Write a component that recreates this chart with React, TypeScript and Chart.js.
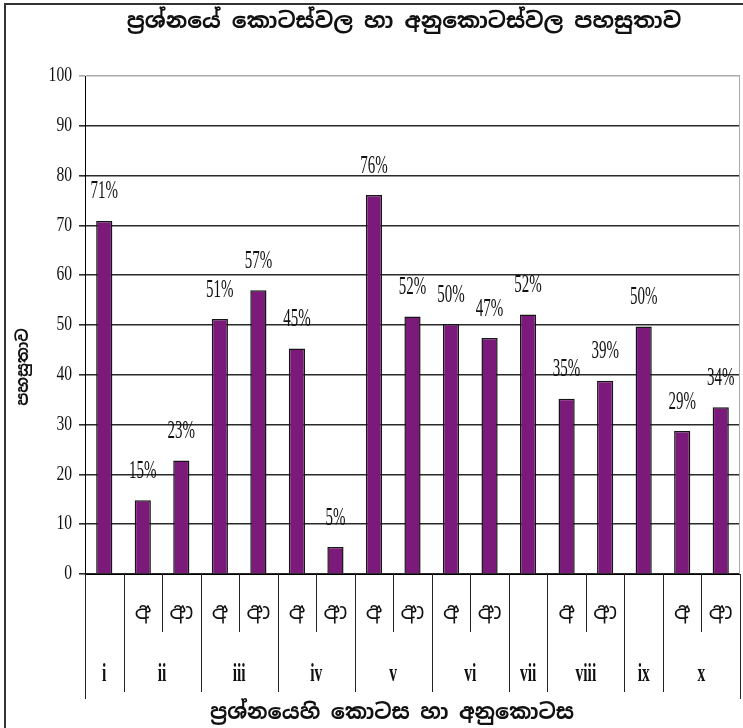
import React, { useEffect, useRef } from 'react';
import { Chart, registerables } from 'chart.js';

Chart.register(...registerables);

// ---- data ----
const titleText = 'ප්‍රශ්නයේ කොටස්වල හා අනුකොටස්වල පහසුතාව';
const yTitleText = 'පහසුතාව';
const xTitleText = 'ප්‍රශ්නයෙහි කොටස හා අනුකොටස';

const groupLabels = ['i', 'ii', 'ii', 'iii', 'iii', 'iv', 'iv', 'v', 'v', 'vi', 'vi', 'vii', 'viii', 'viii', 'ix', 'x', 'x'];
const subLabels = ['', 'අ', 'ආ', 'අ', 'ආ', 'අ', 'ආ', 'අ', 'ආ', 'අ', 'ආ', '', 'අ', 'ආ', '', 'අ', 'ආ'];
const values = [70.9, 14.8, 22.8, 51.2, 57.0, 45.3, 5.4, 76.1, 51.7, 50.2, 47.4, 52.1, 35.2, 38.8, 49.7, 28.7, 33.5];
const valueLabels = ['71%', '15%', '23%', '51%', '57%', '45%', '5%', '76%', '52%', '50%', '47%', '52%', '35%', '39%', '50%', '29%', '34%'];
const yTickValues = [0, 10, 20, 30, 40, 50, 60, 70, 80, 90, 100];

const SINHALA = "'Noto Sans Sinhala', 'Iskoola Pota', 'Noto Sans', 'DejaVu Sans', sans-serif";
const SERIF = "'Liberation Serif', 'DejaVu Serif', serif";

function squeezed(
  ctx: CanvasRenderingContext2D,
  text: string,
  x: number,
  y: number,
  font: string,
  sx: number,
  align: CanvasTextAlign,
  baseline: CanvasTextBaseline = 'middle'
) {
  ctx.save();
  ctx.translate(x, y);
  ctx.scale(sx, 1);
  ctx.font = font;
  ctx.textAlign = align;
  ctx.textBaseline = baseline;
  ctx.fillStyle = '#111';
  ctx.fillText(text, 0, 0);
  ctx.restore();
}

const decorPlugin = {
  id: 'decor',
  afterDraw(chart: any) {
    const ctx: CanvasRenderingContext2D = chart.ctx;
    const xs = chart.scales.x;
    const ys = chart.scales.y;
    const area = chart.chartArea;

    // outer frame (left and top)
    ctx.save();
    ctx.strokeStyle = '#333';
    ctx.lineWidth = 2;
    ctx.beginPath();
    ctx.moveTo(5, 728);
    ctx.lineTo(5, 4);
    ctx.lineTo(743, 4);
    ctx.stroke();
    ctx.restore();

    // right plot border (light)
    ctx.save();
    ctx.strokeStyle = '#aaa';
    ctx.lineWidth = 1;
    ctx.beginPath();
    ctx.moveTo(area.right - 0.5, area.top);
    ctx.lineTo(area.right - 0.5, area.bottom);
    ctx.stroke();
    ctx.restore();

    // titles
    ctx.save();
    ctx.fillStyle = '#111';
    ctx.font = `bold 22px ${SINHALA}`;
    ctx.textAlign = 'center';
    ctx.textBaseline = 'middle';
    ctx.fillText(titleText, 404, 22);
    ctx.font = `bold 21px ${SINHALA}`;
    ctx.fillText(xTitleText, 392, 713);
    ctx.translate(24, 367);
    ctx.rotate(-Math.PI / 2);
    ctx.font = `bold 16px ${SINHALA}`;
    ctx.fillText(yTitleText, 0, 0);
    ctx.restore();

    // y tick labels
    yTickValues.forEach((v) => {
      const y = ys.getPixelForValue(v);
      squeezed(ctx, String(v), 72, y, `20px ${SERIF}`, 0.78, 'right');
    });

    // value labels
    const meta = chart.getDatasetMeta(0);
    meta.data.forEach((bar: any, i: number) => {
      squeezed(ctx, valueLabels[i], bar.x, bar.y - 29, `25px ${SERIF}`, 0.6, 'center');
    });

    // x axis multi-level separators
    const n = groupLabels.length;
    const slot = (area.right - area.left) / n;
    ctx.save();
    ctx.strokeStyle = '#222';
    ctx.lineWidth = 1;
    for (let i = 0; i <= n; i++) {
      const bx = i < n ? xs.getPixelForValue(i) - slot / 2 : xs.getPixelForValue(n - 1) + slot / 2;
      let end = 632;
      if (i === 0 || i === n) end = 699;
      else if (groupLabels[i - 1] !== groupLabels[i]) end = 692;
      const px = Math.round(bx) + 0.5;
      ctx.beginPath();
      ctx.moveTo(px, area.bottom);
      ctx.lineTo(px, end);
      ctx.stroke();
    }
    ctx.restore();

    // sub labels
    subLabels.forEach((s, i) => {
      if (!s) return;
      ctx.save();
      ctx.fillStyle = '#111';
      ctx.font = `23px ${SINHALA}`;
      ctx.textAlign = 'center';
      ctx.textBaseline = 'middle';
      ctx.fillText(s, xs.getPixelForValue(i), 613);
      ctx.restore();
    });

    // group labels
    let start = 0;
    for (let i = 1; i <= n; i++) {
      if (i === n || groupLabels[i] !== groupLabels[start]) {
        const cx = (xs.getPixelForValue(start) + xs.getPixelForValue(i - 1)) / 2;
        squeezed(ctx, groupLabels[start], cx, 681, `bold 25px ${SERIF}`, 0.62, 'center', 'alphabetic');
        start = i;
      }
    }
  },
};

export default function App() {
  const ref = useRef<HTMLCanvasElement | null>(null);

  useEffect(() => {
    if (!ref.current) return;
    const categories = groupLabels.map((g, i) => (subLabels[i] ? `${g} ${subLabels[i]}` : g));
    const chart = new Chart(ref.current, {
      type: 'bar',
      data: {
        labels: categories,
        datasets: [
          {
            data: values,
            backgroundColor: '#7B1A7A',
            borderColor: '#151515',
            borderWidth: 1.5,
            barPercentage: 0.42,
            categoryPercentage: 1,
          },
        ],
      },
      options: {
        animation: false,
        responsive: false,
        maintainAspectRatio: false,
        layout: { padding: { left: 68, top: 76, right: 3, bottom: 0 } },
        plugins: {
          legend: { display: false },
          tooltip: { enabled: false },
          title: { display: false },
        },
        scales: {
          x: {
            offset: true,
            grid: { display: false },
            border: { display: true, color: '#000', width: 1 },
            ticks: { display: false },
            afterFit: (s: any) => {
              s.height = 154;
            },
          },
          y: {
            min: 0,
            max: 100,
            ticks: { display: false, stepSize: 10 },
            grid: {
              color: (c: any) => (c.tick && c.tick.value === 100 ? '#aaa' : '#2a2a2a'),
              lineWidth: 1.6,
              tickLength: 6,
              drawTicks: true,
            },
            border: { display: true, color: '#000', width: 1 },
            afterFit: (s: any) => {
              s.width = 17;
            },
          },
        },
      },
      plugins: [decorPlugin],
    });
    return () => chart.destroy();
  }, []);

  return (
    <div style={{ position: 'absolute', left: 0, top: 0, width: 743, height: 728, background: '#fff' }}>
      <canvas ref={ref} width={743} height={728} style={{ width: 743, height: 728, display: 'block' }} />
    </div>
  );
}
